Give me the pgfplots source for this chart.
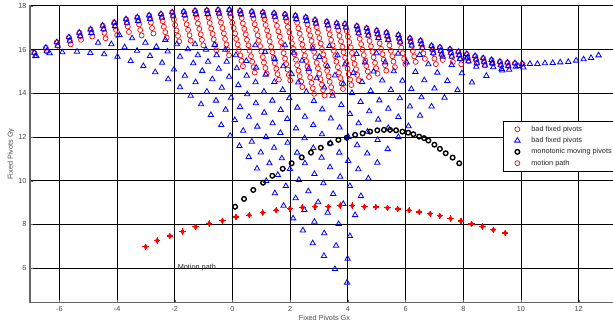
\documentclass[border=0pt]{standalone}
\usepackage{pgfplots}
\pgfplotsset{compat=1.18}
\usepackage{fontspec}
\setmainfont{Liberation Sans}
\definecolor{tickgray}{gray}{0.3}
\newcommand{\smallfont}{\fontsize{7.3}{8.7}\selectfont}
\pgfplotsset{myleg/.style={legend image code/.code={\path[draw=none,fill=none,mark=none] (0pt,-2pt) rectangle (22pt,2pt); \draw[mark repeat=2,mark phase=2,##1] plot coordinates {(0pt,0pt)(10pt,0pt)(22pt,0pt)};}}}
\begin{document}
\begin{tikzpicture}[font=\smallfont]
\begin{axis}[
  scale only axis,
  width=583pt, height=297.4pt,
  xmin=-7.02, xmax=13.19, ymin=4.42, ymax=18.03,
  axis lines*=left,
  axis line style={black!60, line width=1.2pt},
  xtick={-6,-4,...,12}, ytick={6,8,...,18},
  grid=major, major grid style={black, line width=0.9pt},
  tick style={black!60},
  major tick length=3pt,
  tick align=inside,
  ticklabel style={font=\smallfont, text=tickgray},
  /pgf/number format/assume math mode=true,
  legend style={at={(0.8113,0.611)}, anchor=north west, draw=black, line width=0.8pt, fill=white, font=\smallfont, text=black!85, inner xsep=4pt, inner ysep=2.5pt, row sep=0.5pt, cells={anchor=west}},
]
% bad fixed pivots (red circles)
\addplot[only marks, mark=o, red, mark size=2.5pt, line width=0.7pt, myleg] coordinates {
(-6.87,15.86)
(-6.47,16.09) (-6.44,15.93)
(-6.09,16.34) (-6.06,16.18)
(-5.67,16.57) (-5.64,16.41) (-5.61,16.24)
(-5.31,16.78) (-5.28,16.62) (-5.25,16.45)
(-4.92,16.93) (-4.89,16.77) (-4.86,16.60)
(-4.50,17.10) (-4.47,16.94) (-4.44,16.77) (-4.40,16.52)
(-4.10,17.24) (-4.07,17.08) (-4.04,16.91) (-4.00,16.66)
(-3.69,17.39) (-3.66,17.23) (-3.63,17.06) (-3.59,16.81)
(-3.30,17.48) (-3.27,17.32) (-3.24,17.15) (-3.20,16.90) (-3.15,16.65)
(-2.89,17.57) (-2.86,17.41) (-2.83,17.24) (-2.79,16.99) (-2.74,16.74)
(-2.48,17.63) (-2.45,17.47) (-2.42,17.30) (-2.38,17.05) (-2.33,16.80) (-2.28,16.55)
(-2.09,17.71) (-2.06,17.55) (-2.03,17.38) (-1.99,17.13) (-1.94,16.88) (-1.89,16.63) (-1.85,16.38)
(-1.69,17.74) (-1.66,17.58) (-1.63,17.41) (-1.59,17.16) (-1.54,16.91) (-1.49,16.66) (-1.45,16.41)
(-1.30,17.78) (-1.27,17.62) (-1.24,17.45) (-1.20,17.20) (-1.15,16.95) (-1.10,16.70) (-1.06,16.45) (-1.01,16.20)
(-0.89,17.80) (-0.86,17.64) (-0.83,17.47) (-0.79,17.22) (-0.74,16.97) (-0.69,16.72) (-0.65,16.47) (-0.60,16.22) (-0.56,15.97)
(-0.50,17.82) (-0.47,17.66) (-0.44,17.49) (-0.40,17.24) (-0.35,16.99) (-0.30,16.74) (-0.26,16.49) (-0.21,16.24) (-0.17,15.99) (-0.12,15.74)
(-0.11,17.82) (-0.08,17.66) (-0.05,17.49) (-0.01,17.24) (0.04,16.99) (0.09,16.74) (0.13,16.49) (0.18,16.24) (0.22,15.99) (0.27,15.74) (0.31,15.49) (0.36,15.24)
(0.26,17.78) (0.29,17.62) (0.32,17.45) (0.36,17.20) (0.41,16.95) (0.46,16.70) (0.50,16.45) (0.55,16.20) (0.59,15.95) (0.64,15.70) (0.68,15.45) (0.73,15.20) (0.77,14.95)
(0.67,17.74) (0.70,17.58) (0.73,17.41) (0.77,17.16) (0.82,16.91) (0.87,16.66) (0.91,16.41) (0.96,16.16) (1.00,15.91) (1.05,15.66) (1.09,15.41) (1.14,15.16) (1.18,14.91)
(1.05,17.71) (1.08,17.55) (1.11,17.38) (1.15,17.13) (1.20,16.88) (1.25,16.63) (1.29,16.38) (1.34,16.13) (1.38,15.88) (1.43,15.63) (1.47,15.38) (1.52,15.13) (1.56,14.88) (1.61,14.63)
(1.44,17.67) (1.47,17.51) (1.50,17.34) (1.54,17.09) (1.59,16.84) (1.64,16.59) (1.68,16.34) (1.73,16.09) (1.77,15.84) (1.82,15.59) (1.86,15.34) (1.91,15.09) (1.95,14.84) (2.00,14.59)
(1.82,17.62) (1.85,17.46) (1.88,17.29) (1.92,17.04) (1.97,16.79) (2.02,16.54) (2.06,16.29) (2.11,16.04) (2.15,15.79) (2.20,15.54) (2.24,15.29) (2.29,15.04) (2.33,14.79) (2.38,14.54) (2.42,14.29)
(2.18,17.56) (2.21,17.40) (2.24,17.23) (2.28,16.98) (2.33,16.73) (2.38,16.48) (2.42,16.23) (2.47,15.98) (2.51,15.73) (2.56,15.48) (2.60,15.23) (2.65,14.98) (2.69,14.73) (2.74,14.48) (2.78,14.23) (2.83,13.98)
(2.54,17.48) (2.57,17.32) (2.60,17.15) (2.64,16.90) (2.69,16.65) (2.74,16.40) (2.78,16.15) (2.83,15.90) (2.87,15.65) (2.92,15.40) (2.96,15.15) (3.01,14.90) (3.05,14.65) (3.10,14.40) (3.14,14.15) (3.19,13.90)
(2.86,17.36) (2.89,17.20) (2.92,17.03) (2.96,16.78) (3.01,16.53) (3.06,16.28) (3.10,16.03) (3.15,15.78) (3.19,15.53) (3.24,15.28) (3.28,15.03) (3.33,14.78) (3.37,14.53) (3.42,14.28) (3.46,14.03)
(3.27,17.28) (3.30,17.12) (3.33,16.95) (3.37,16.70) (3.42,16.45) (3.47,16.20) (3.51,15.95) (3.56,15.70) (3.60,15.45) (3.65,15.20) (3.69,14.95) (3.74,14.70) (3.78,14.45) (3.83,14.20)
(3.61,17.21) (3.64,17.05) (3.67,16.88) (3.71,16.63) (3.76,16.38) (3.81,16.13) (3.85,15.88) (3.90,15.63) (3.94,15.38) (3.99,15.13) (4.03,14.88) (4.08,14.63) (4.12,14.38)
(3.90,17.18) (3.93,17.02) (3.96,16.85) (4.00,16.60) (4.05,16.35) (4.10,16.10) (4.14,15.85) (4.19,15.60) (4.23,15.35) (4.28,15.10) (4.32,14.85) (4.37,14.60)
(4.31,17.08) (4.34,16.92) (4.37,16.75) (4.41,16.50) (4.46,16.25) (4.51,16.00) (4.55,15.75) (4.60,15.50) (4.64,15.25) (4.69,15.00) (4.73,14.75)
(4.65,16.98) (4.68,16.82) (4.71,16.65) (4.75,16.40) (4.80,16.15) (4.85,15.90) (4.89,15.65) (4.94,15.40) (4.98,15.15) (5.03,14.90)
(5.00,16.87) (5.03,16.71) (5.06,16.54) (5.10,16.29) (5.15,16.04) (5.20,15.79) (5.24,15.54) (5.29,15.29) (5.33,15.04)
(5.34,16.78) (5.37,16.62) (5.40,16.45) (5.44,16.20) (5.49,15.95) (5.54,15.70) (5.58,15.45) (5.63,15.20)
(5.75,16.67) (5.78,16.51) (5.81,16.34) (5.85,16.09) (5.90,15.84) (5.95,15.59) (5.99,15.34)
(6.15,16.52) (6.18,16.36) (6.21,16.19) (6.25,15.94) (6.30,15.69) (6.35,15.44)
(6.52,16.41) (6.55,16.25) (6.58,16.08) (6.62,15.83) (6.67,15.58)
(6.90,16.17) (6.93,16.01) (6.96,15.84) (7.00,15.59) (7.05,15.34)
(7.19,16.11) (7.22,15.95) (7.25,15.78) (7.29,15.53)
(7.54,16.02) (7.57,15.86) (7.60,15.69) (7.64,15.44)
(7.83,15.91) (7.86,15.75) (7.89,15.58) (7.93,15.33)
(8.12,15.80) (8.15,15.64) (8.18,15.47)
(8.41,15.71) (8.44,15.55) (8.47,15.38)
(8.69,15.61) (8.72,15.45) (8.75,15.28)
(8.98,15.53) (9.01,15.37)
(9.27,15.45) (9.30,15.29)
(9.53,15.41) (9.56,15.25)
(9.79,15.38)
(10.05,15.35)
};
\addlegendentry{bad fixed pivots}
% bad fixed pivots (blue triangles)
\addplot[only marks, mark=triangle, blue, mark size=3.1pt, line width=0.8pt, myleg] coordinates {
(-6.87,15.86) (-6.84,15.70) (-6.47,16.09) (-6.44,15.93) (-6.09,16.34) (-6.06,16.18)
(-5.67,16.57) (-5.64,16.41) (-5.31,16.78) (-5.28,16.62) (-4.92,16.93) (-4.89,16.77)
(-4.50,17.10) (-4.47,16.94) (-4.10,17.24) (-4.07,17.08) (-3.69,17.39) (-3.66,17.23)
(-3.30,17.48) (-3.27,17.32) (-2.89,17.57) (-2.86,17.41) (-2.48,17.63) (-2.45,17.47)
(-2.09,17.71) (-2.06,17.55) (-1.69,17.74) (-1.66,17.58) (-1.30,17.78) (-1.27,17.62)
(-0.89,17.80) (-0.86,17.64) (-0.50,17.82) (-0.47,17.66) (-0.11,17.82) (-0.08,17.66)
(0.26,17.78) (0.29,17.62) (0.67,17.74) (0.70,17.58) (1.05,17.71) (1.08,17.55)
(1.44,17.67) (1.47,17.51) (1.82,17.62) (1.85,17.46) (2.18,17.56) (2.21,17.40)
(2.54,17.48) (2.57,17.32) (2.86,17.36) (2.89,17.20) (3.27,17.28) (3.30,17.12)
(3.61,17.21) (3.64,17.05) (3.90,17.18) (3.93,17.02) (4.31,17.08) (4.34,16.92)
(4.65,16.98) (4.68,16.82) (5.00,16.87) (5.03,16.71) (5.34,16.78) (5.37,16.62)
(5.75,16.67) (5.78,16.51) (6.15,16.52) (6.18,16.36) (6.52,16.41) (6.55,16.25)
(6.90,16.17) (6.93,16.01) (7.19,16.11) (7.22,15.95) (7.54,16.02) (7.57,15.86)
(7.83,15.91) (7.86,15.75) (8.12,15.80) (8.15,15.64) (8.41,15.71) (8.44,15.55)
(8.69,15.61) (8.72,15.45) (8.98,15.53) (9.01,15.37) (9.27,15.45) (9.30,15.29)
(9.53,15.41) (9.56,15.25) (9.79,15.38) (9.82,15.22) (10.05,15.35) (10.08,15.19)
(4.37,16.75) (4.71,16.65) (5.06,16.54) (5.40,16.45) (5.81,16.34) (6.21,16.19)
(6.58,16.08) (6.96,15.84) (7.25,15.78) (7.60,15.69) (7.89,15.58) (8.18,15.47)
(8.47,15.38) (8.75,15.28) (9.04,15.20) (9.33,15.12) (9.59,15.08)
(10.31,15.35) (10.57,15.35) (10.83,15.38) (11.10,15.39) (11.36,15.42) (11.64,15.44)
(11.91,15.50) (12.17,15.56) (12.43,15.62) (12.69,15.74)
(-6.80,15.71) (-6.34,15.84) (-5.90,15.88) (-5.39,15.91) (-4.93,15.85) (-4.45,15.79)
(-3.99,15.68) (-3.53,15.48) (-3.09,15.25) (-2.68,14.97) (-2.23,14.65) (-1.82,14.28)
(-1.45,13.89) (-1.09,13.50) (-0.75,13.01) (-0.39,12.55) (-0.08,12.06) (0.24,11.59)
(0.56,11.09) (0.85,10.56) (1.17,9.99) (1.47,9.43) (1.77,8.86) (2.10,8.28)
(2.44,7.73) (2.78,7.14) (3.17,6.56) (3.55,5.96) (3.97,5.34)
(-4.66,16.32) (-4.20,16.25) (-3.74,16.11) (-3.31,15.95) (-2.86,15.71) (-2.44,15.40)
(-2.03,15.09) (-1.65,14.81) (-1.28,14.51) (-0.89,14.08) (-0.57,13.67) (-0.24,13.25)
(0.08,12.78) (0.37,12.29) (0.67,11.79) (0.98,11.30) (1.28,10.80) (1.57,10.27)
(1.85,9.76) (2.19,9.20) (2.49,8.66) (2.84,8.13) (3.18,7.60) (3.59,7.03) (3.99,6.43)
(-3.92,16.67) (-3.48,16.52) (-3.02,16.32) (-2.64,16.13) (-2.25,15.92) (-1.82,15.68)
(-1.36,15.38) (-1.05,15.03) (-0.70,14.65) (-0.37,14.26) (-0.05,13.80) (0.26,13.38)
(0.57,12.93) (0.86,12.48) (1.16,12.00) (1.44,11.51) (1.71,11.03) (1.99,10.54)
(2.30,10.04) (2.63,9.52) (2.97,9.02) (3.30,8.54) (3.68,8.02) (4.07,7.47)
(-2.33,16.45) (-1.93,16.25) (-1.55,16.02) (-1.20,15.75) (-0.85,15.45) (-0.48,15.13)
(-0.12,14.76) (0.20,14.38) (0.51,13.96) (0.81,13.55) (1.10,13.12) (1.39,12.63)
(1.66,12.19) (1.91,11.74) (2.24,11.29) (2.51,10.80) (2.84,10.31) (3.15,9.89)
(3.49,9.40) (3.84,8.94) (4.25,8.43)
(4.45,9.30) (4.07,9.76) (3.73,10.19) (3.38,10.62) (3.09,11.06) (2.80,11.50)
(2.50,11.95) (2.20,12.40) (1.90,12.83) (1.67,13.24) (1.38,13.67) (1.09,14.08)
(0.80,14.51) (0.49,14.81) (0.15,15.15) (-0.20,15.45) (-0.55,15.75) (-0.92,16.00) (-1.30,16.25)
(4.71,10.11) (4.36,10.53) (4.01,10.91) (3.70,11.29) (3.40,11.72) (3.10,12.13)
(2.80,12.55) (2.51,12.93) (2.25,13.35) (1.97,13.78) (1.74,14.16) (1.45,14.52)
(1.15,14.86) (0.82,15.18) (0.48,15.48) (0.12,15.75) (-0.25,16.00) (-0.62,16.22)
(5.02,10.83) (4.67,11.25) (4.32,11.63) (4.01,12.01) (3.71,12.44) (3.41,12.85)
(3.11,13.27) (2.82,13.65) (2.56,14.07) (2.28,14.50) (2.05,14.88) (1.76,15.24)
(1.46,15.58) (1.13,15.90) (0.79,16.20)
(5.38,11.45) (5.03,11.87) (4.68,12.25) (4.37,12.63) (4.07,13.06) (3.77,13.47)
(3.47,13.89) (3.18,14.27) (2.92,14.69) (2.64,15.12) (2.41,15.50) (2.12,15.86) (1.82,16.20)
(5.75,12.00) (5.40,12.42) (5.05,12.80) (4.74,13.18) (4.44,13.61) (4.14,14.02)
(3.84,14.44) (3.55,14.82) (3.29,15.24) (3.01,15.67) (2.78,16.05)
(6.10,12.50) (5.75,12.92) (5.40,13.30) (5.09,13.68) (4.79,14.11) (4.49,14.52)
(4.19,14.94) (3.90,15.32) (3.64,15.74) (3.36,16.17)
(6.50,12.98) (6.15,13.40) (5.80,13.78) (5.49,14.16) (5.19,14.59) (4.89,15.00) (4.59,15.42) (4.30,15.80)
(6.90,13.40) (6.55,13.82) (6.20,14.20) (5.89,14.58) (5.59,15.01) (5.29,15.42) (4.99,15.84)
(7.35,13.80) (7.00,14.22) (6.65,14.60) (6.34,14.98) (6.04,15.41) (5.74,15.82)
(7.80,14.15) (7.45,14.57) (7.10,14.95) (6.79,15.33) (6.49,15.76)
(8.30,14.50) (7.95,14.92) (7.60,15.30) (7.29,15.68)
(8.80,14.80) (8.45,15.22) (8.10,15.60)
(9.35,15.05) (9.00,15.40)
(9.90,15.25)
};
\addlegendentry{bad fixed pivots}
% monotonic moving pivots
\addplot[only marks, mark=o, black, mark size=2.3pt, line width=1.4pt, myleg] coordinates {
(0.09,8.81) (0.40,9.17) (0.72,9.58) (1.06,9.91) (1.38,10.23) (1.74,10.55)
(2.05,10.80) (2.40,11.07) (2.72,11.29) (3.06,11.51) (3.38,11.71) (3.67,11.87)
(3.96,11.97) (4.25,12.10) (4.51,12.17) (4.77,12.25) (5.02,12.31) (5.25,12.33)
(5.46,12.33) (5.67,12.31) (5.89,12.25) (6.09,12.20) (6.27,12.13) (6.47,12.02)
(6.64,11.95) (6.79,11.84) (7.00,11.65) (7.19,11.46) (7.39,11.26) (7.63,11.06) (7.86,10.80)
};
\addlegendentry{monotonic moving pivots}
\addlegendimage{only marks, mark=o, red, mark size=2.5pt, line width=0.7pt, myleg}
\addlegendentry{motion path}
% motion path
\addplot[only marks, mark=diamond*, red, mark size=2.6pt, forget plot] coordinates {
(-3.01,6.98) (-2.61,7.26) (-2.17,7.47) (-1.73,7.67) (-1.28,7.89) (-0.81,8.04)
(-0.35,8.17) (0.12,8.34) (0.58,8.43) (1.05,8.54) (1.51,8.65) (1.99,8.72)
(2.42,8.78) (2.86,8.81) (3.32,8.81) (3.73,8.86) (4.15,8.86) (4.57,8.81)
(4.97,8.80) (5.37,8.76) (5.73,8.71) (6.12,8.65) (6.47,8.57) (6.85,8.49)
(7.19,8.39) (7.56,8.27) (7.92,8.16) (8.29,8.02) (8.66,7.90) (9.04,7.75) (9.45,7.61)
};
\addplot[only marks, mark=+, red, mark size=3.2pt, line width=1.1pt, forget plot] coordinates {
(-3.01,6.98) (-2.61,7.26) (-2.17,7.47) (-1.73,7.67) (-1.28,7.89) (-0.81,8.04)
(-0.35,8.17) (0.12,8.34) (0.58,8.43) (1.05,8.54) (1.51,8.65) (1.99,8.72)
(2.42,8.78) (2.86,8.81) (3.32,8.81) (3.73,8.86) (4.15,8.86) (4.57,8.81)
(4.97,8.80) (5.37,8.76) (5.73,8.71) (6.12,8.65) (6.47,8.57) (6.85,8.49)
(7.19,8.39) (7.56,8.27) (7.92,8.16) (8.29,8.02) (8.66,7.90) (9.04,7.75) (9.45,7.61)
};
\node[anchor=west, text=black!85, font=\smallfont] at (axis cs:-2.02,6.04) {Motion path};
\end{axis}
\pgfresetboundingbox
\path[use as bounding box] ([shift={(-30pt,-20.3pt)}]current axis.south west) rectangle ([shift={(0pt,5.3pt)}]current axis.north east);
\node[rotate=90, text=tickgray] at ([xshift=-19pt]current axis.west) {Fixed Pivots Gy};
\node[text=tickgray] at ([shift={(3pt,-15.3pt)}]current axis.south) {Fixed Pivots Gx};
\end{tikzpicture}
\end{document}
